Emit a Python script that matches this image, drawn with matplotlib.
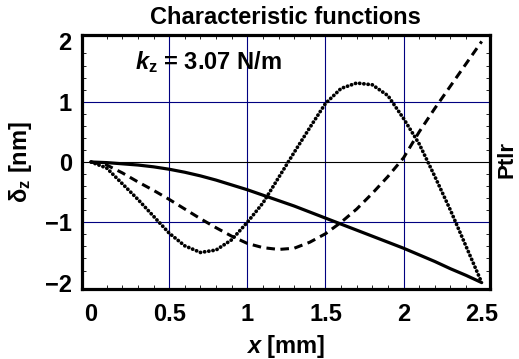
import numpy as np
import matplotlib
matplotlib.use("Agg")
import matplotlib.pyplot as plt
from matplotlib.ticker import MultipleLocator

# values
x_mm = [0.0, 0.1, 0.2, 0.3, 0.4, 0.5, 0.6, 0.7, 0.8, 0.9, 1.0, 1.1, 1.2,
        1.3, 1.4, 1.5, 1.6, 1.7, 1.8, 1.9, 2.0, 2.1, 2.2, 2.3, 2.4, 2.5]
mode1 = [0.0, -0.01, -0.03, -0.05, -0.08, -0.12, -0.17, -0.23, -0.30, -0.38,
         -0.46, -0.55, -0.64, -0.73, -0.83, -0.93, -1.03, -1.13, -1.23, -1.33,
         -1.43, -1.54, -1.65, -1.77, -1.88, -2.0]
mode2 = [0.0, -0.05, -0.18, -0.33, -0.47, -0.62, -0.78, -0.94, -1.09, -1.23,
         -1.35, -1.42, -1.45, -1.43, -1.33, -1.19, -1.0, -0.78, -0.52, -0.24,
         0.07, 0.50, 0.89, 1.26, 1.63, 2.0]
mode3 = [0.0, -0.10, -0.36, -0.62, -0.90, -1.18, -1.39, -1.50, -1.46, -1.29,
         -1.0, -0.68, -0.26, 0.16, 0.57, 0.97, 1.22, 1.31, 1.28, 1.10,
         0.72, 0.30, -0.24, -0.80, -1.40, -2.0]

x_ticks = [0, 0.5, 1, 1.5, 2, 2.5]
x_tick_labels = ["0", "0.5", "1", "1.5", "2", "2.5"]
y_ticks = [-2, -1, 0, 1, 2]
y_tick_labels = ["\u22122", "\u22121", "0", "1", "2"]

plt.rcParams["font.family"] = ["Liberation Sans", "DejaVu Sans"]
plt.rcParams["font.weight"] = "bold"
plt.rcParams["axes.labelweight"] = "bold"
plt.rcParams["mathtext.fontset"] = "custom"
plt.rcParams["mathtext.rm"] = "Liberation Sans:bold"
plt.rcParams["mathtext.it"] = "Liberation Sans:bold:italic"
plt.rcParams["mathtext.bf"] = "Liberation Sans:bold"
plt.rcParams["mathtext.sf"] = "Liberation Sans"

fs = 17

fig = plt.figure(figsize=(5.19, 3.59), dpi=100)
ax = fig.add_axes([81.5 / 519, 1 - 289.3 / 359, (490 - 81.5) / 519, (289.3 - 35) / 359])

grid_col = "#000080"
for gx in [0.5, 1, 1.5, 2]:
    ax.axvline(gx, color=grid_col, lw=0.8, zorder=1)
for gy in [-1, 1]:
    ax.axhline(gy, color=grid_col, lw=0.8, zorder=1)
ax.axhline(0, color="black", lw=0.8, zorder=1)

ax.plot(x_mm, mode1, color="black", lw=2.3, solid_capstyle="round", zorder=3)
ax.plot(x_mm, mode2, color="black", lw=2.2, linestyle=(0, (2.8, 1.8)), zorder=3)
ax.plot(x_mm, mode3, color="black", lw=2.7, linestyle=(0, (0.05, 1.08)),
        dash_capstyle="round", zorder=3)

ax.set_xlim(-0.061, 2.553)
ax.set_ylim(-2.111, 2.106)
ax.set_xticks(x_ticks)
ax.set_xticklabels(x_tick_labels)
ax.set_yticks(y_ticks)
ax.set_yticklabels(y_tick_labels)
ax.xaxis.set_minor_locator(MultipleLocator(0.1))
ax.yaxis.set_minor_locator(MultipleLocator(0.2))
ax.tick_params(which="both", direction="in", top=True, right=True, color="black")
ax.tick_params(which="major", length=0, labelsize=fs)
ax.tick_params(axis="x", which="major", pad=10)
ax.tick_params(axis="y", which="major", pad=7)
ax.tick_params(which="minor", length=3, width=0.6)
for sp in ax.spines.values():
    sp.set_linewidth(2.3)

ax.set_title("Characteristic functions", fontsize=fs, fontweight="bold", pad=8)
ax.set_xlabel(r"$\mathit{x}$ [mm]", fontsize=fs, labelpad=5)
ax.set_ylabel(r"$\mathsf{\delta}_\mathrm{z}$ [nm]", fontsize=fs, labelpad=8)
ax.text(0.28, 1.66, r"$\mathit{k}_\mathrm{z}$ = 3.07 N/m", fontsize=fs,
        fontweight="bold", va="center")
fig.text(507 / 519, 1 - 159 / 359, "Ptlr", rotation=90, fontsize=16,
         fontweight="bold", ha="center", va="center")

fig.savefig("out.png", dpi=100)
